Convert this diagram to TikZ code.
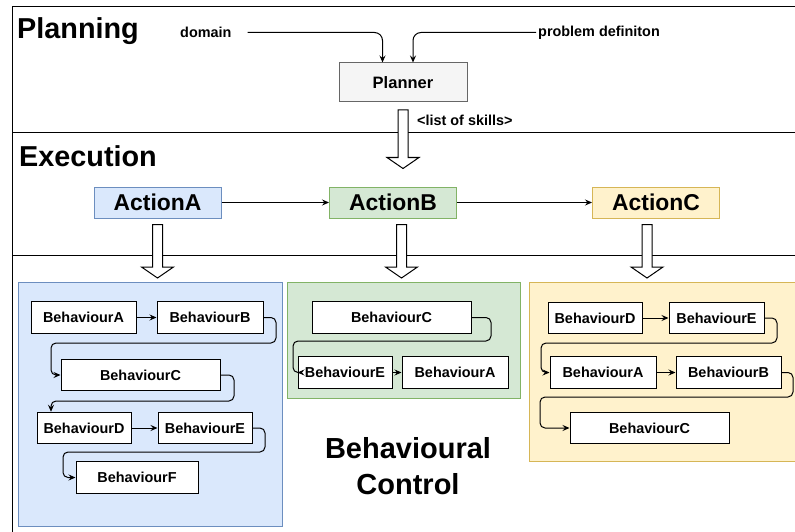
\documentclass[tikz,border=0pt]{standalone}
\usepackage{fontspec}
\setmainfont{Liberation Sans}
\usetikzlibrary{arrows.meta,calc}

\definecolor{blueFill}{HTML}{DAE8FC}\definecolor{blueLine}{HTML}{6C8EBF}
\definecolor{greenFill}{HTML}{D5E8D4}\definecolor{greenLine}{HTML}{82B366}
\definecolor{yellowFill}{HTML}{FFF2CC}\definecolor{yellowLine}{HTML}{D6B656}
\definecolor{plannerFill}{HTML}{F5F5F5}\definecolor{plannerLine}{HTML}{666666}

\tikzset{
  frameline/.style={draw=black, line width=1pt},
  title/.style={font=\bfseries\fontsize{28.8}{34}\selectfont, inner sep=0pt, anchor=base west},
  label/.style={font=\bfseries\fontsize{14.4}{17}\selectfont, inner sep=0pt},
  action/.style={draw, line width=1pt, minimum width=127pt, minimum height=31pt, inner sep=0pt,
                 font=\bfseries\fontsize{22.9}{27}\selectfont},
  behav/.style={draw=black, fill=white, line width=1pt, minimum height=31.5pt, inner sep=0pt,
                font=\bfseries\fontsize{14.4}{17}\selectfont},
  group/.style={line width=1pt},
  arr/.style={draw=black, line width=1pt, rounded corners=5pt,
              -{Stealth[length=7pt,width=6pt,inset=2.5pt]}},
  fatarrow/.style={draw=black, fill=white, line width=1pt, line join=miter},
}

% hollow downward block arrow below a node anchor:
% #1 = x offset, #2 = gap below the anchor, #3 = anchor, #4 = shaft length
\newcommand\fatdown[4]{%
  \draw[fatarrow] ([xshift=#1-5pt, yshift=-#2]#3) -- ++(0,#4) -- ++(-11,0) -- ++(16,11)
    -- ++(16,-11) -- ++(-11,0) -- ++(0,-#4) -- cycle;}

\begin{document}
\begin{tikzpicture}[x=1pt,y=-1pt]
\useasboundingbox (0,0) rectangle (795,532);

% swimlane frame
\draw[frameline] (795,7) -- (12,7) -- (12,532);
\draw[frameline] (12,133) -- (795,133);
\draw[frameline] (12,255) -- (795,255);

% lane titles
\node[title] (tplan) at (17,38.5) {Planning};
\node[title] (texec) at (19,166.7) {Execution};

% planning lane
\node[draw=plannerLine, fill=plannerFill, line width=1pt, minimum width=128pt, minimum height=39pt,
      inner sep=0pt, font=\bfseries\fontsize{16.5}{20}\selectfont] (pl) at (403,82.5) {Planner};
\node[label, anchor=west] (dom) at (180,32.5) {domain};
\node[label, anchor=west] (prob) at (538,32.5) {problem definiton};
\node[label, anchor=west] (skills) at (417,120.5) {<list of skills>};
\draw[arr, rounded corners=8pt] ([xshift=16pt]dom.east) -- (382.5,32.5) -- ([xshift=-20.5pt]pl.north);
\draw[arr, rounded corners=8pt] ([xshift=-2pt]prob.west) -- (413,32.5) -- ([xshift=10pt]pl.north);

% execution lane
\node[action, draw=blueLine, fill=blueFill] (aA) at (157.5,202.5) {ActionA};
\node[action, draw=greenLine, fill=greenFill] (aB) at (393,202.5) {ActionB};
\node[action, draw=yellowLine, fill=yellowFill] (aC) at (656,202.5) {ActionC};
\draw[arr] (aA) -- (aB);
\draw[arr] (aB) -- (aC);

% behaviour groups
\draw[group, draw=blueLine, fill=blueFill] (18,282) rectangle (282,526);
\draw[group, draw=greenLine, fill=greenFill] (287,282) rectangle (520,398);
\draw[group, draw=yellowLine, fill=yellowFill] (529,282) rectangle (800,461);

% block arrows between the lanes
\fatdown{0pt}{7.5pt}{pl.south}{47.5}
\fatdown{0pt}{6pt}{aA.south}{42.5}
\fatdown{8.5pt}{6pt}{aB.south}{42.5}
\fatdown{-9pt}{6pt}{aC.south}{42.5}

% group of ActionA
\node[behav, minimum width=105pt] (bA) at (83.5,317.5) {BehaviourA};
\node[behav, minimum width=106pt] (bB) at (210,317.5) {BehaviourB};
\node[behav, minimum width=159pt] (bC) at (140.5,375) {BehaviourC};
\node[behav, minimum width=94pt]  (bD) at (84,428) {BehaviourD};
\node[behav, minimum width=94pt]  (bE) at (205,428) {BehaviourE};
\node[behav, minimum width=122pt] (bF) at (137,477.5) {BehaviourF};
\draw[arr] (bA) -- (bB);
\draw[arr] (bB.east) -- (276,317.5) -- (276,343) -- (51,343) -- (51,375) -- (bC.west);
\draw[arr] (bC.east) -- (234,375) -- (234,401) -- (51,401) -- ([xshift=-33pt]bD.north);
\draw[arr] (bD) -- (bE);
\draw[arr] (bE.east) -- (265,428) -- (265,452) -- (63,452) -- (63,477.5) -- (bF.west);

% group of ActionB
\node[behav, minimum width=159pt] (gC) at (391.5,317.5) {BehaviourC};
\node[behav, minimum width=94pt]  (gE) at (345,372.5) {BehaviourE};
\node[behav, minimum width=106pt] (gA) at (455,372.5) {BehaviourA};
\draw[arr] (gC.east) -- (491,317.5) -- (491,341) -- (293,341) -- (293,372.5) -- (gE.west);
\draw[arr] (gE) -- (gA);

% group of ActionC
\node[behav, minimum width=94pt]  (yD) at (595,318) {BehaviourD};
\node[behav, minimum width=95pt]  (yE) at (716.5,318) {BehaviourE};
\node[behav, minimum width=106pt] (yA) at (603,372.5) {BehaviourA};
\node[behav, minimum width=105pt] (yB) at (728.5,372.5) {BehaviourB};
\node[behav, minimum width=159pt] (yC) at (649.5,428) {BehaviourC};
\draw[arr] (yD) -- (yE);
\draw[arr] (yE.east) -- (777,318) -- (777,343) -- (541,343) -- (541,372.5) -- (yA.west);
\draw[arr] (yA) -- (yB);
\draw[arr] (yB.east) -- (793,372.5) -- (793,397) -- (540,397) -- (540,428) -- (yC.west);

% lane caption
\node[align=center, inner sep=0pt, font=\bfseries\fontsize{29}{36}\selectfont] (bctl) at (408,466) {Behavioural\\Control};
\end{tikzpicture}
\end{document}
